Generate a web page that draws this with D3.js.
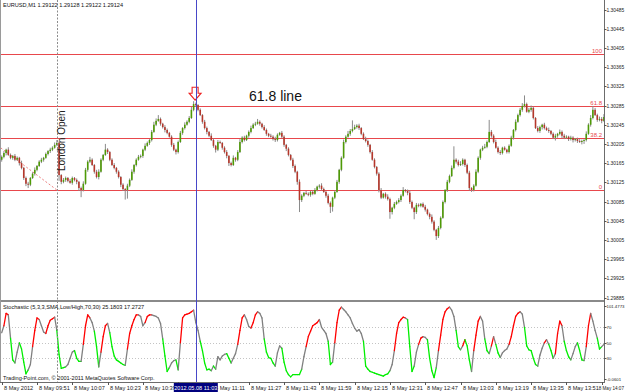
<!DOCTYPE html>
<html><head>
<script src="https://d3js.org/d3.v7.min.js"></script>
<style>
  body { margin:0; background:#fff; }
  svg { display:block; font-family:"Liberation Sans", Arial, sans-serif; }
</style>
</head>
<body>
<script>
  // ---- data ----
  // closes of the M1 bars from 09:35, in points above 1.30000 (1 point = 0.00001)
  const closePts = [
    178,186,193,182,176,180,172,176,165,155,
    134,122,120,134,143,151,159,168,172,176,
    184,190,193,197,203,207,140,126,130,134,
    128,124,134,130,126,113,109,122,151,168,
    172,161,147,136,147,172,182,193,188,172,
    161,155,147,136,120,111,109,118,130,147,
    161,172,178,180,193,201,207,213,230,245,
    253,257,247,240,234,228,220,203,193,188,
    209,228,238,245,251,259,276,288,286,276,
    265,251,238,230,222,213,201,193,209,207,
    197,188,180,165,161,176,172,188,209,218,
    213,222,230,238,245,247,251,247,240,234,
    226,222,220,215,213,224,228,220,203,195,
    182,172,159,147,126,88,97,103,101,99,
    105,101,109,116,118,111,105,97,82,74,
    93,105,126,151,176,209,220,226,232,236,
    240,243,238,226,215,211,203,188,172,157,
    143,109,93,101,95,90,63,72,80,84,
    88,97,109,107,103,84,72,63,78,76,
    80,74,68,59,53,43,26,13,30,51,
    84,109,126,138,155,172,168,161,163,172,
    161,145,113,109,118,147,176,193,197,199,
    209,230,222,209,197,188,186,197,193,188,
    201,218,234,251,265,276,284,288,272,276,
    280,259,238,232,240,245,238,234,232,226,
    218,222,226,230,222,218,220,215,218,213,
    215,211,209,211,213,226,245,259,276,265,
    255,257,253,261
  ];
  const firstOpenPts = 172;
  // wick length above / below the body, in points
  const wickUp = [
    3,4,2,5,3,2,4,3,2,5, 2,3,4,2,3,5,2,3,4,2, 3,2,4,3,5,6,3,2,4,3,
    2,4,3,2,3,2,3,5,4,3, 6,3,2,4,5,3,2,12,3,2, 3,4,2,3,2,3,2,4,3,5,
    2,3,4,3,2,5,3,2,4,6, 5,8,3,2,4,3,2,3,4,2, 3,4,2,5,3,4,6,6,3,2,
    3,2,4,3,2,5,3,2,4,3, 2,3,4,2,3,5,2,4,6,3, 4,2,3,5,3,4,6,3,2,4,
    3,2,4,3,5,3,2,4,3,2, 3,2,4,3,2,5,3,2,4,3, 2,3,4,2,3,5,3,2,4,3,
    2,3,4,2,3,5,3,6,4,18, 5,3,4,2,3,5,3,2,4,3, 2,3,4,2,3,5,3,2,4,3,
    4,3,6,2,3,5,3,2,4,3, 2,3,4,2,3,5,3,2,4,3, 3,2,4,3,5,28,3,4,6,3,
    2,3,4,2,3,5,3,2,4,6, 3,25,4,3,5,3,4,2,3,2, 3,4,2,5,3,4,6,18,3,4,
    5,3,2,4,3,2,4,3,5,2, 3,4,2,5,3,4,3,2,4,3, 2,3,4,3,2,5,3,6,8,4,
    3,5,4,6
  ];
  const wickDn = [
    4,3,5,2,3,4,3,2,5,3, 4,5,7,3,2,4,3,2,3,4, 2,3,4,3,2,3,12,5,3,4,
    3,2,4,3,5,6,15,3,2,4, 3,2,4,3,5,2,3,2,4,3, 2,3,4,3,5,4,20,18,3,2,
    4,3,2,3,4,3,2,4,3,2, 3,2,4,3,5,3,2,4,3,5, 3,2,4,3,2,3,2,3,4,3,
    2,4,3,5,3,2,4,6,3,2, 4,3,5,6,3,2,4,3,2,3, 3,2,4,3,2,3,2,4,3,2,
    4,3,2,3,4,3,2,3,4,5, 3,2,4,3,6,25,4,3,2,3, 4,3,2,3,4,3,2,4,3,13,
    10,3,2,4,3,2,3,2,4,3, 2,3,4,3,2,3,4,3,2,3, 4,5,3,2,4,3,14,5,3,2,
    3,4,2,3,5,4,3,15,4,3, 3,2,4,3,5,4,3,8,4,3, 2,3,4,3,2,3,4,3,2,3,
    4,3,5,4,3,2,3,4,3,2, 3,2,4,3,2,3,4,3,2,3, 3,2,4,3,2,3,4,3,2,3,
    4,3,2,3,4,5,3,2,4,3, 3,6,4,3,5,3,2,4,3,5, 3,4,2,5,6,3,2,4,3,2,
    4,3,5,2
  ];
  // Stochastic %K per bar
  const stochK = [
    63,72,88,86,56,28,24,38,50,42, 25,10,15,22,45,66,82,80,72,64,
    62,72,79,81,83,66,35,17,18,19, 22,30,38,40,30,26,26,48,72,86,
    82,76,65,45,19,38,58,72,75,63, 45,33,28,26,24,22,21,42,62,72,
    80,86,86,84,72,76,84,86,86,85, 84,82,75,55,33,13,18,24,27,28,
    15,50,82,86,87,88,90,92,76,66, 52,40,24,15,16,14,20,16,32,28,
    33,35,36,30,24,30,36,48,66,82, 86,80,71,69,76,86,90,88,82,55,
    38,31,30,24,20,37,46,43,25,14, 9,6,9,9,9,9,16,32,45,58,
    65,72,74,76,80,70,66,62,52,22, 25,50,76,92,96,93,90,86,82,75,
    69,65,67,62,52,20,16,13,12,11, 10,9,8,7,9,10,14,22,40,62,
    76,80,83,82,80,45,13,20,38,48, 56,58,57,54,30,14,5,18,40,60,
    80,90,94,96,92,84,66,45,41,46, 54,46,28,13,40,60,78,84,78,55,
    40,36,46,58,48,37,31,37,40,42, 48,58,72,84,88,90,87,70,46,41,
    40,30,22,20,34,43,50,54,48,40, 30,36,62,78,72,52,40,32,28,36,
    45,50,40,28,27,45,72,88,78,66, 56,42,45,48
  ];
  const stochMin = -0.0601, stochMax = 101.4773;
  const stochLevels = [70, 50, 30];

  const priceTicks = [1.30485,1.30445,1.30405,1.30365,1.30325,1.30285,1.30245,1.30205,
                      1.30165,1.30125,1.30085,1.30045,1.30005,1.29965,1.29925,1.29885];
  // the 10:55 label sits under the crosshair box, so only its tick is shown
  const timeTicks = ["09:35","09:51","10:07","10:23","10:39","10:55","11:11","11:27","11:43",
                     "11:59","12:15","12:31","12:47","13:03","13:19","13:35","13:51","14:07"];
  const timeLabels = ["8 May 2012","8 May 09:51","8 May 10:07","8 May 10:23","8 May 10:39","",
                      "8 May 11:11","8 May 11:27","8 May 11:43","8 May 11:59","8 May 12:15","8 May 12:31",
                      "8 May 12:47","8 May 13:03","8 May 13:19","8 May 13:35","8 May 13:51","8 May 14:07"];

  // fibonacci retracement anchors
  const fibHigh = 1.30392, fibHighTime = "08:38";
  const fibLow = 1.30109, fibLowTime = "10:00";
  const fibLevels = [100, 61.8, 38.2, 0];

  const crossTime = "11:03", crossLabel = "2012.05.08 11:03";
  const londonTime = "10:00";
  const arrowBar = 87;

  // ---- setup ----
  const width = 625, height = 392;
  const plotRight = 604, mainBottom = 300, subTop = 302.9, subBottom = 381.6;
  const svg = d3.select("body").append("svg").attr("width", width).attr("height", height);

  const parse = d3.timeParse("%H:%M");
  const t0 = parse("09:35");
  const x = d3.scaleTime().domain([t0, parse("14:07")]).range([1.7, 601.7]);
  const barX = i => x(d3.timeMinute.offset(t0, i));
  const y = d3.scaleLinear().domain([1.29885, 1.30485]).range([297.5, 9.5]);
  const yS = d3.scaleLinear().domain([stochMin, stochMax]).range([subBottom, subTop]);
  const toPrice = p => 1.3 + p / 100000;

  svg.append("clipPath").attr("id","mainClip").append("rect")
     .attr("x",0).attr("y",0).attr("width",plotRight).attr("height",mainBottom);
  svg.append("clipPath").attr("id","subClip").append("rect")
     .attr("x",0).attr("y",302).attr("width",plotRight).attr("height",80);

  const main = svg.append("g").attr("clip-path","url(#mainClip)");
  const sub = svg.append("g").attr("clip-path","url(#subClip)");

  // fibonacci lines
  fibLevels.forEach(l => {
    let p = fibLow + (fibHigh - fibLow) * l / 100;
    main.append("line").attr("x1",0).attr("x2",plotRight).attr("y1",Math.round(y(p))+0.5).attr("y2",Math.round(y(p))+0.5)
        .attr("stroke","#e8474c").attr("stroke-width",1);
    svg.append("text").attr("x",602).attr("y",Math.round(y(p))-1.5).attr("text-anchor","end")
       .attr("font-size",6).attr("fill","#e8474c").text(l);
  });
  main.append("line")
      .attr("x1",x(parse(fibHighTime))).attr("y1",y(fibHigh))
      .attr("x2",x(parse(fibLowTime))).attr("y2",y(fibLow))
      .attr("stroke","#ec8080").attr("stroke-width",1).attr("stroke-dasharray","2,2");

  // candles
  closePts.forEach((c, i) => {
    let o = i === 0 ? firstOpenPts : closePts[i-1];
    let hi = Math.max(o, c) + wickUp[i], lo = Math.min(o, c) - wickDn[i];
    let cx = barX(i);
    main.append("line").attr("x1",cx).attr("x2",cx)
        .attr("y1",y(toPrice(hi))).attr("y2",y(toPrice(lo)))
        .attr("stroke","#8a8a8a").attr("stroke-width",1);
    let top = y(toPrice(Math.max(o,c))), bot = y(toPrice(Math.min(o,c)));
    main.append("rect").attr("x",cx-0.8).attr("width",1.6)
        .attr("y",top).attr("height",Math.max(bot-top,0.8))
        .attr("fill", c > o ? "#4e9a06" : (c < o ? "#b5372b" : "#555"));
  });

  // arrow above the high bar
  {
    let o = closePts[arrowBar-1], c = closePts[arrowBar];
    let ax = barX(arrowBar) + 1.5, ay = y(toPrice(Math.max(o,c) + wickUp[arrowBar])) - 1;
    main.append("path")
        .attr("d", `M${ax-3},${ay-13} L${ax+3},${ay-13} L${ax+3},${ay-7} L${ax+6},${ay-7} L${ax},${ay} L${ax-6},${ay-7} L${ax-3},${ay-7} Z`)
        .attr("fill","none").attr("stroke","#ee2222").attr("stroke-width",1.1);
  }

  // main separator
  svg.append("rect").attr("x",0).attr("y",mainBottom).attr("width",plotRight+1).attr("height",2).attr("fill","#8a8a8a");

  // stochastic levels
  stochLevels.forEach(l => {
    sub.append("line").attr("x1",0).attr("x2",plotRight).attr("y1",Math.round(yS(l))+0.5).attr("y2",Math.round(yS(l))+0.5)
       .attr("stroke","#c4c4c4").attr("stroke-dasharray","1,2");
  });

  // stochastic line, coloured by %K vs its 3-bar average
  const stochD = stochK.map((k,i) => i < 2 ? k : d3.mean(stochK.slice(i-2, i+1)));
  const stochColor = i => {
    let k = stochK[i], d = stochD[i];
    if (k > d && k > 52) return "#ff0000";
    if ((k < d && k < 48) || k < 20) return "#00ee00";
    return "#808080";
  };
  for (let i = 1; i < stochK.length; i++) {
    sub.append("line")
       .attr("x1",barX(i-1)).attr("y1",yS(stochK[i-1]))
       .attr("x2",barX(i)).attr("y2",yS(stochK[i]))
       .attr("stroke",stochColor(i)).attr("stroke-width",1.3).attr("stroke-linecap","round");
  }

  // vertical lines: london open (dotted) and crosshair
  svg.append("line").attr("x1",Math.round(x(parse(londonTime)))+0.5).attr("x2",Math.round(x(parse(londonTime)))+0.5)
     .attr("y1",0).attr("y2",382).attr("stroke","#8c8c8c").attr("stroke-dasharray","2,1.5");
  svg.append("line").attr("x1",Math.round(x(parse(crossTime)))+0.5).attr("x2",Math.round(x(parse(crossTime)))+0.5)
     .attr("y1",0).attr("y2",382).attr("stroke","#4747c8").attr("stroke-width",1);

  // borders
  svg.append("line").attr("x1",plotRight+0.5).attr("x2",plotRight+0.5).attr("y1",0).attr("y2",382).attr("stroke","#6c6c6c");
  svg.append("line").attr("x1",0.5).attr("x2",0.5).attr("y1",0).attr("y2",382).attr("stroke","#9a9a9a");
  svg.append("line").attr("x1",0).attr("x2",plotRight+1).attr("y1",382.5).attr("y2",382.5).attr("stroke","#6c6c6c");

  // right price axis
  priceTicks.forEach(p => {
    svg.append("line").attr("x1",plotRight).attr("x2",plotRight+2.5).attr("y1",Math.round(y(p))+0.5).attr("y2",Math.round(y(p))+0.5).attr("stroke","#555");
    svg.append("text").attr("x",plotRight+2.5).attr("y",y(p)+2).attr("font-size",4.9).attr("fill","#222").text(p.toFixed(5));
  });
  [stochMax, 70, 50, 30, stochMin].forEach(v => {
    let yy = v === stochMax ? yS(v) + 3 : (v === stochMin ? yS(v) - 2.5 : yS(v));
    svg.append("line").attr("x1",plotRight).attr("x2",plotRight+2.5).attr("y1",Math.round(yy)+0.5).attr("y2",Math.round(yy)+0.5).attr("stroke","#555");
    svg.append("text").attr("x",plotRight+2.5).attr("y",yy+2).attr("font-size",4.3).attr("fill","#222")
       .text(Number.isInteger(v) ? v : v.toFixed(4));
  });

  // bottom time axis
  timeTicks.forEach((t, i) => {
    let tx = Math.round(x(parse(t))) + 0.5;
    svg.append("line").attr("x1",tx).attr("x2",tx).attr("y1",382).attr("y2",385).attr("stroke","#555");
    if (timeLabels[i]) {
      let last = i === timeTicks.length - 1;
      svg.append("text").attr("x", last ? 624 : tx+1.5).attr("y",390)
         .attr("text-anchor", last ? "end" : "start")
         .attr("font-size", last ? 4.6 : 5.6).attr("fill","#222").text(timeLabels[i]);
    }
  });
  {
    let cx = x(parse(crossTime));
    svg.append("rect").attr("x",cx-22).attr("y",383).attr("width",44).attr("height",9).attr("fill","#00007e");
    svg.append("text").attr("x",cx).attr("y",390).attr("text-anchor","middle").attr("font-size",5.6).attr("fill","#fff").text(crossLabel);
  }

  // texts
  svg.append("text").attr("x",3).attr("y",7).attr("font-size",5.6).attr("fill","#111")
     .text("EURUSD,M1  1.29122 1.29128 1.29122 1.29124");
  svg.append("text").attr("x",3).attr("y",308.5).attr("font-size",5.6).attr("fill","#111")
     .text("Stochastic (5,3,3,SMA,Low/High,70,30) 25.1803 17.2727");
  svg.append("text").attr("x",3).attr("y",380).attr("font-size",5.6).attr("fill","#111")
     .text("Trading-Point.com, \u00a9 2001-2011 MetaQuotes Software Corp.");
  svg.append("text").attr("x",249).attr("y",101).attr("font-size",14).attr("fill","#111").text("61.8 line");
  svg.append("text").attr("transform","translate(65,171) rotate(-90)").attr("font-size",10).attr("fill","#222").text("London Open");
</script>
</body>
</html>
